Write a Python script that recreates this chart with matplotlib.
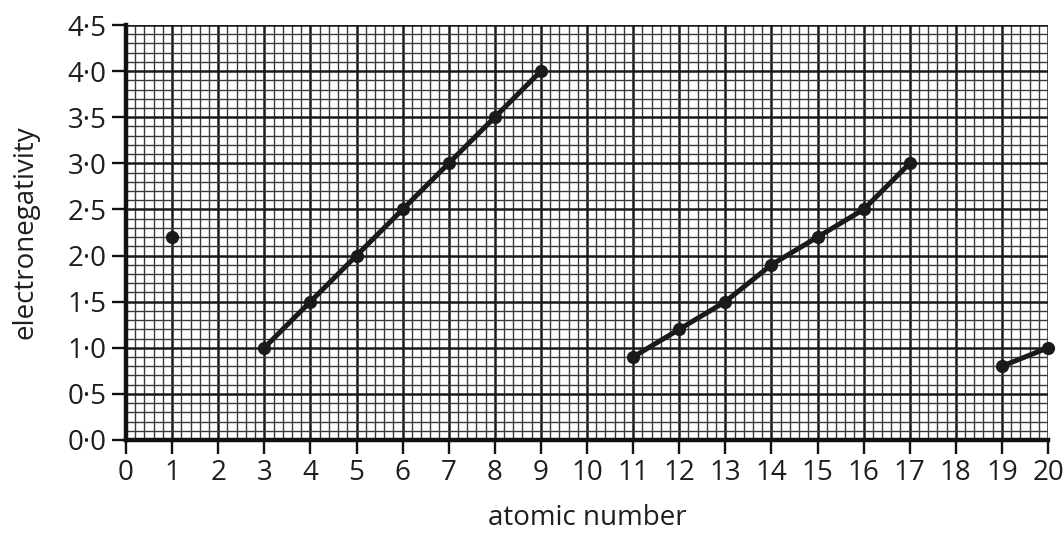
import matplotlib
matplotlib.use("Agg")
import matplotlib.pyplot as plt
import numpy as np

# Data
single_x = [1]
single_y = [2.2]
period2_x = [3, 4, 5, 6, 7, 8, 9]
period2_y = [1.0, 1.5, 2.0, 2.5, 3.0, 3.5, 4.0]
period3_x = [11, 12, 13, 14, 15, 16, 17]
period3_y = [0.9, 1.2, 1.5, 1.9, 2.2, 2.5, 3.0]
period4_x = [19, 20]
period4_y = [0.8, 1.0]
x_ticks = list(range(0, 21))
y_ticks = [0.0, 0.5, 1.0, 1.5, 2.0, 2.5, 3.0, 3.5, 4.0, 4.5]
y_tick_labels = ["0·0", "0·5", "1·0", "1·5", "2·0", "2·5", "3·0", "3·5", "4·0", "4·5"]

plt.rcParams['font.family'] = ['Open Sans', 'DejaVu Sans']
plt.rcParams['text.color'] = '#1e1e1e'
plt.rcParams['axes.labelcolor'] = '#1e1e1e'
plt.rcParams['xtick.labelcolor'] = '#1e1e1e'
plt.rcParams['ytick.labelcolor'] = '#1e1e1e'

fig = plt.figure(figsize=(10.64, 5.33), dpi=100)
ax = fig.add_axes([126/1064, 1-440/533, 922/1064, 415/533])
ax.set_xlim(0, 20)
ax.set_ylim(0, 4.5)

# grid paper: x minor every 0.2, y minor every 0.1
for i in range(0, 101):
    xv = i / 5
    major = i % 5 == 0
    ax.axvline(xv, color='#1a1a1a' if major else '#3a3a3a', lw=1.8 if major else 1.0, zorder=1)
for j in range(0, 46):
    yv = j / 10
    major = j % 5 == 0
    ax.axhline(yv, color='#1a1a1a' if major else '#3a3a3a', lw=1.8 if major else 1.0, zorder=1)

for s in ['top', 'right']:
    ax.spines[s].set_visible(False)
ax.spines['left'].set_linewidth(3.2)
ax.spines['bottom'].set_linewidth(3.2)
ax.spines['left'].set_color('#111111')
ax.spines['bottom'].set_color('#111111')
ax.spines['left'].set_zorder(3)
ax.spines['bottom'].set_zorder(3)

ax.set_xticks(x_ticks)
ax.set_yticks(y_ticks)
ax.set_yticklabels(y_tick_labels)
ax.tick_params(axis='both', length=10, width=1.7, labelsize=20, color='#111111', pad=4)

kw = dict(color='#1a1a1a', lw=3.6, marker='o', markersize=8.5, clip_on=False, zorder=4)
ax.plot(single_x, single_y, linestyle='none', marker='o', markersize=8.5, color='#1a1a1a', clip_on=False, zorder=4)
ax.plot(period2_x, period2_y, **kw)
ax.plot(period3_x, period3_y, **kw)
ax.plot(period4_x, period4_y, **kw)

ax.set_xlabel("atomic number", fontsize=20, labelpad=12)
ax.set_ylabel("electronegativity", fontsize=20, labelpad=20)

fig.savefig("out.png", dpi=100)
